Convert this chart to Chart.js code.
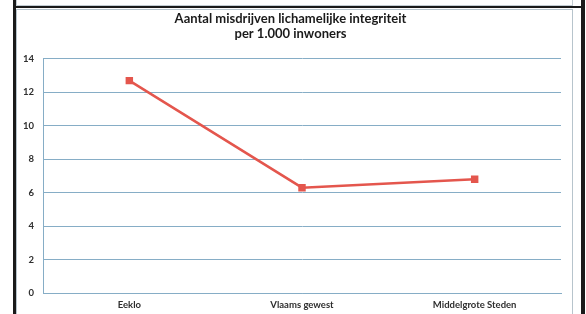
<!DOCTYPE html>
<html>
<head>
<meta charset="utf-8">
<script src="https://cdn.jsdelivr.net/npm/chart.js@4"></script>
<style>
  html, body { margin: 0; padding: 0; background: #fff; }
  #wrap { position: relative; width: 586px; height: 314px; overflow: hidden; }
  #frame { position: absolute; left: 13px; top: -20px; width: 565px; height: 400px;
           border-left: 3px solid #1a1a1a; border-right: 4px solid #1a1a1a; }
  #hline { position: absolute; left: 13px; top: 6px; width: 572px; height: 2px; background: #1a1a1a; }
  #topbox { position: absolute; left: 16px; top: -10px; width: 555px; height: 14px; border: 1px solid #c3ccd2; }
  #box { position: absolute; left: 16px; top: 9px; width: 555px; height: 400px; border: 1px solid #b7c4cc; }
  canvas { position: absolute; left: 0; top: 0; }
</style>
</head>
<body>
<div id="wrap">
  <div id="topbox"></div>
  <div id="box"></div>
  <div id="frame"></div>
  <div id="hline"></div>
  <canvas id="crimeChart" width="586" height="314"></canvas>
</div>
<script>
const categories = ['Eeklo', 'Vlaams gewest', 'Middelgrote Steden'];
const values = [12.7, 6.3, 6.8];
const titleLines = ['Aantal misdrijven lichamelijke integriteit', 'per 1.000 inwoners'];

const gridColor = '#86adc6';
const lineColor = '#e4564d';

const ctx = document.getElementById('crimeChart').getContext('2d');
const crimeChart = new Chart(ctx, {
    type: 'line',
    data: {
        labels: categories,
        datasets: [{
            label: 'Misdrijven',
            data: values,
            borderColor: lineColor,
            backgroundColor: lineColor,
            borderWidth: 2.5,
            pointStyle: 'rect',
            pointRadius: 3.5,
            pointHoverRadius: 3.5,
            tension: 0
        }]
    },
    options: {
        responsive: false,
        animation: false,
        layout: { padding: { left: 20, right: 25, top: 0, bottom: 0 } },
        plugins: {
            legend: { display: false },
            tooltip: { enabled: false },
            title: {
                display: true,
                text: titleLines,
                color: '#1a1a1a',
                font: { family: 'Lato', size: 13, weight: 'bold', lineHeight: 1.15 },
                padding: { top: 11, bottom: 18 }
            }
        },
        scales: {
            x: {
                offset: true,
                grid: { display: false, drawTicks: false },
                border: { display: true, color: gridColor, width: 1 },
                ticks: { color: '#2e2e2e', padding: 6, font: { family: 'Lato', size: 9.5, weight: 'bold' } },
                afterFit: function (axis) { axis.height = 21; }
            },
            y: {
                min: 0,
                max: 14,
                ticks: { stepSize: 2, color: '#2e2e2e', padding: 9, font: { family: 'Lato', size: 9.5, weight: 'bold' } },
                grid: { color: gridColor, lineWidth: 1, drawTicks: false },
                border: { display: true, color: gridColor, width: 1 },
                afterFit: function (axis) { axis.width = 23; }
            }
        }
    }
});
</script>
</body>
</html>
